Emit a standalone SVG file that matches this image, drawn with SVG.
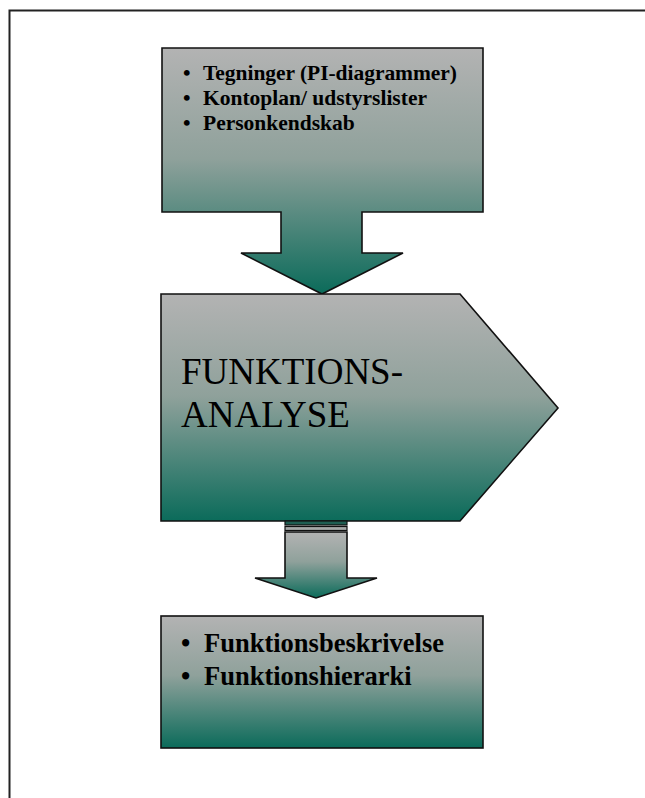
<svg xmlns="http://www.w3.org/2000/svg" width="645" height="798" viewBox="0 0 645 798">
  <defs>
    <linearGradient id="fade" x1="0" y1="0" x2="0" y2="1">
      <stop offset="0" stop-color="#b3b3b3"/>
      <stop offset="0.45" stop-color="#8fa19b"/>
      <stop offset="1" stop-color="#0b6b5a"/>
    </linearGradient>
  </defs>
  <style>
    .shape { fill: url(#fade); stroke: #111; stroke-width: 1.6; stroke-linejoin: miter; }
    .bul { font-family: "Liberation Serif", "Times New Roman", serif; font-weight: bold; fill: #000; }
    .big { font-family: "Liberation Serif", "Times New Roman", serif; fill: #000; }
  </style>
  <rect width="645" height="798" fill="#fff"/>
  <!-- page frame (top and left edges) -->
  <path d="M9.5,798 V10.5 H645" fill="none" stroke="#222" stroke-width="2"/>

  <g id="sources">
    <path class="shape" d="M162,48 H483 V212 H362 V253 H403 L322,294 L241,253 H281 V212 H162 Z"/>
    <text class="bul" font-size="21.5" x="183" y="80">•</text>
    <text class="bul" font-size="21.5" x="203" y="80" textLength="254">Tegninger (PI-diagrammer)</text>
    <text class="bul" font-size="21.5" x="183" y="105">•</text>
    <text class="bul" font-size="21.5" x="203" y="105">Kontoplan/ udstyrslister</text>
    <text class="bul" font-size="21.5" x="183" y="130">•</text>
    <text class="bul" font-size="21.5" x="203" y="130">Personkendskab</text>
  </g>

  <g id="analysis">
    <path class="shape" d="M161,294 H460 L558,408 L460,521 H161 Z"/>
    <text class="big" font-size="37" x="181" y="384">FUNKTIONS-</text>
    <text class="big" font-size="37" x="181" y="427">ANALYSE</text>
  </g>

  <g id="connectors">
    <rect x="285" y="521" width="62" height="4" fill="#1f5e52" stroke="#111" stroke-width="1.2"/>
    <rect x="285" y="526.5" width="62" height="4" fill="#a5a8a7" stroke="#111" stroke-width="1.2"/>
    <path class="shape" d="M285,532 H347 V578 H377 L316,598 L255,578 H285 Z"/>
  </g>

  <g id="results">
    <rect class="shape" x="161" y="616" width="322" height="132"/>
    <text class="bul" font-size="26.5" x="181" y="652">•</text>
    <text class="bul" font-size="26.5" x="204" y="652">Funktionsbeskrivelse</text>
    <text class="bul" font-size="26.5" x="181" y="685">•</text>
    <text class="bul" font-size="26.5" x="204" y="685">Funktionshierarki</text>
  </g>
</svg>
